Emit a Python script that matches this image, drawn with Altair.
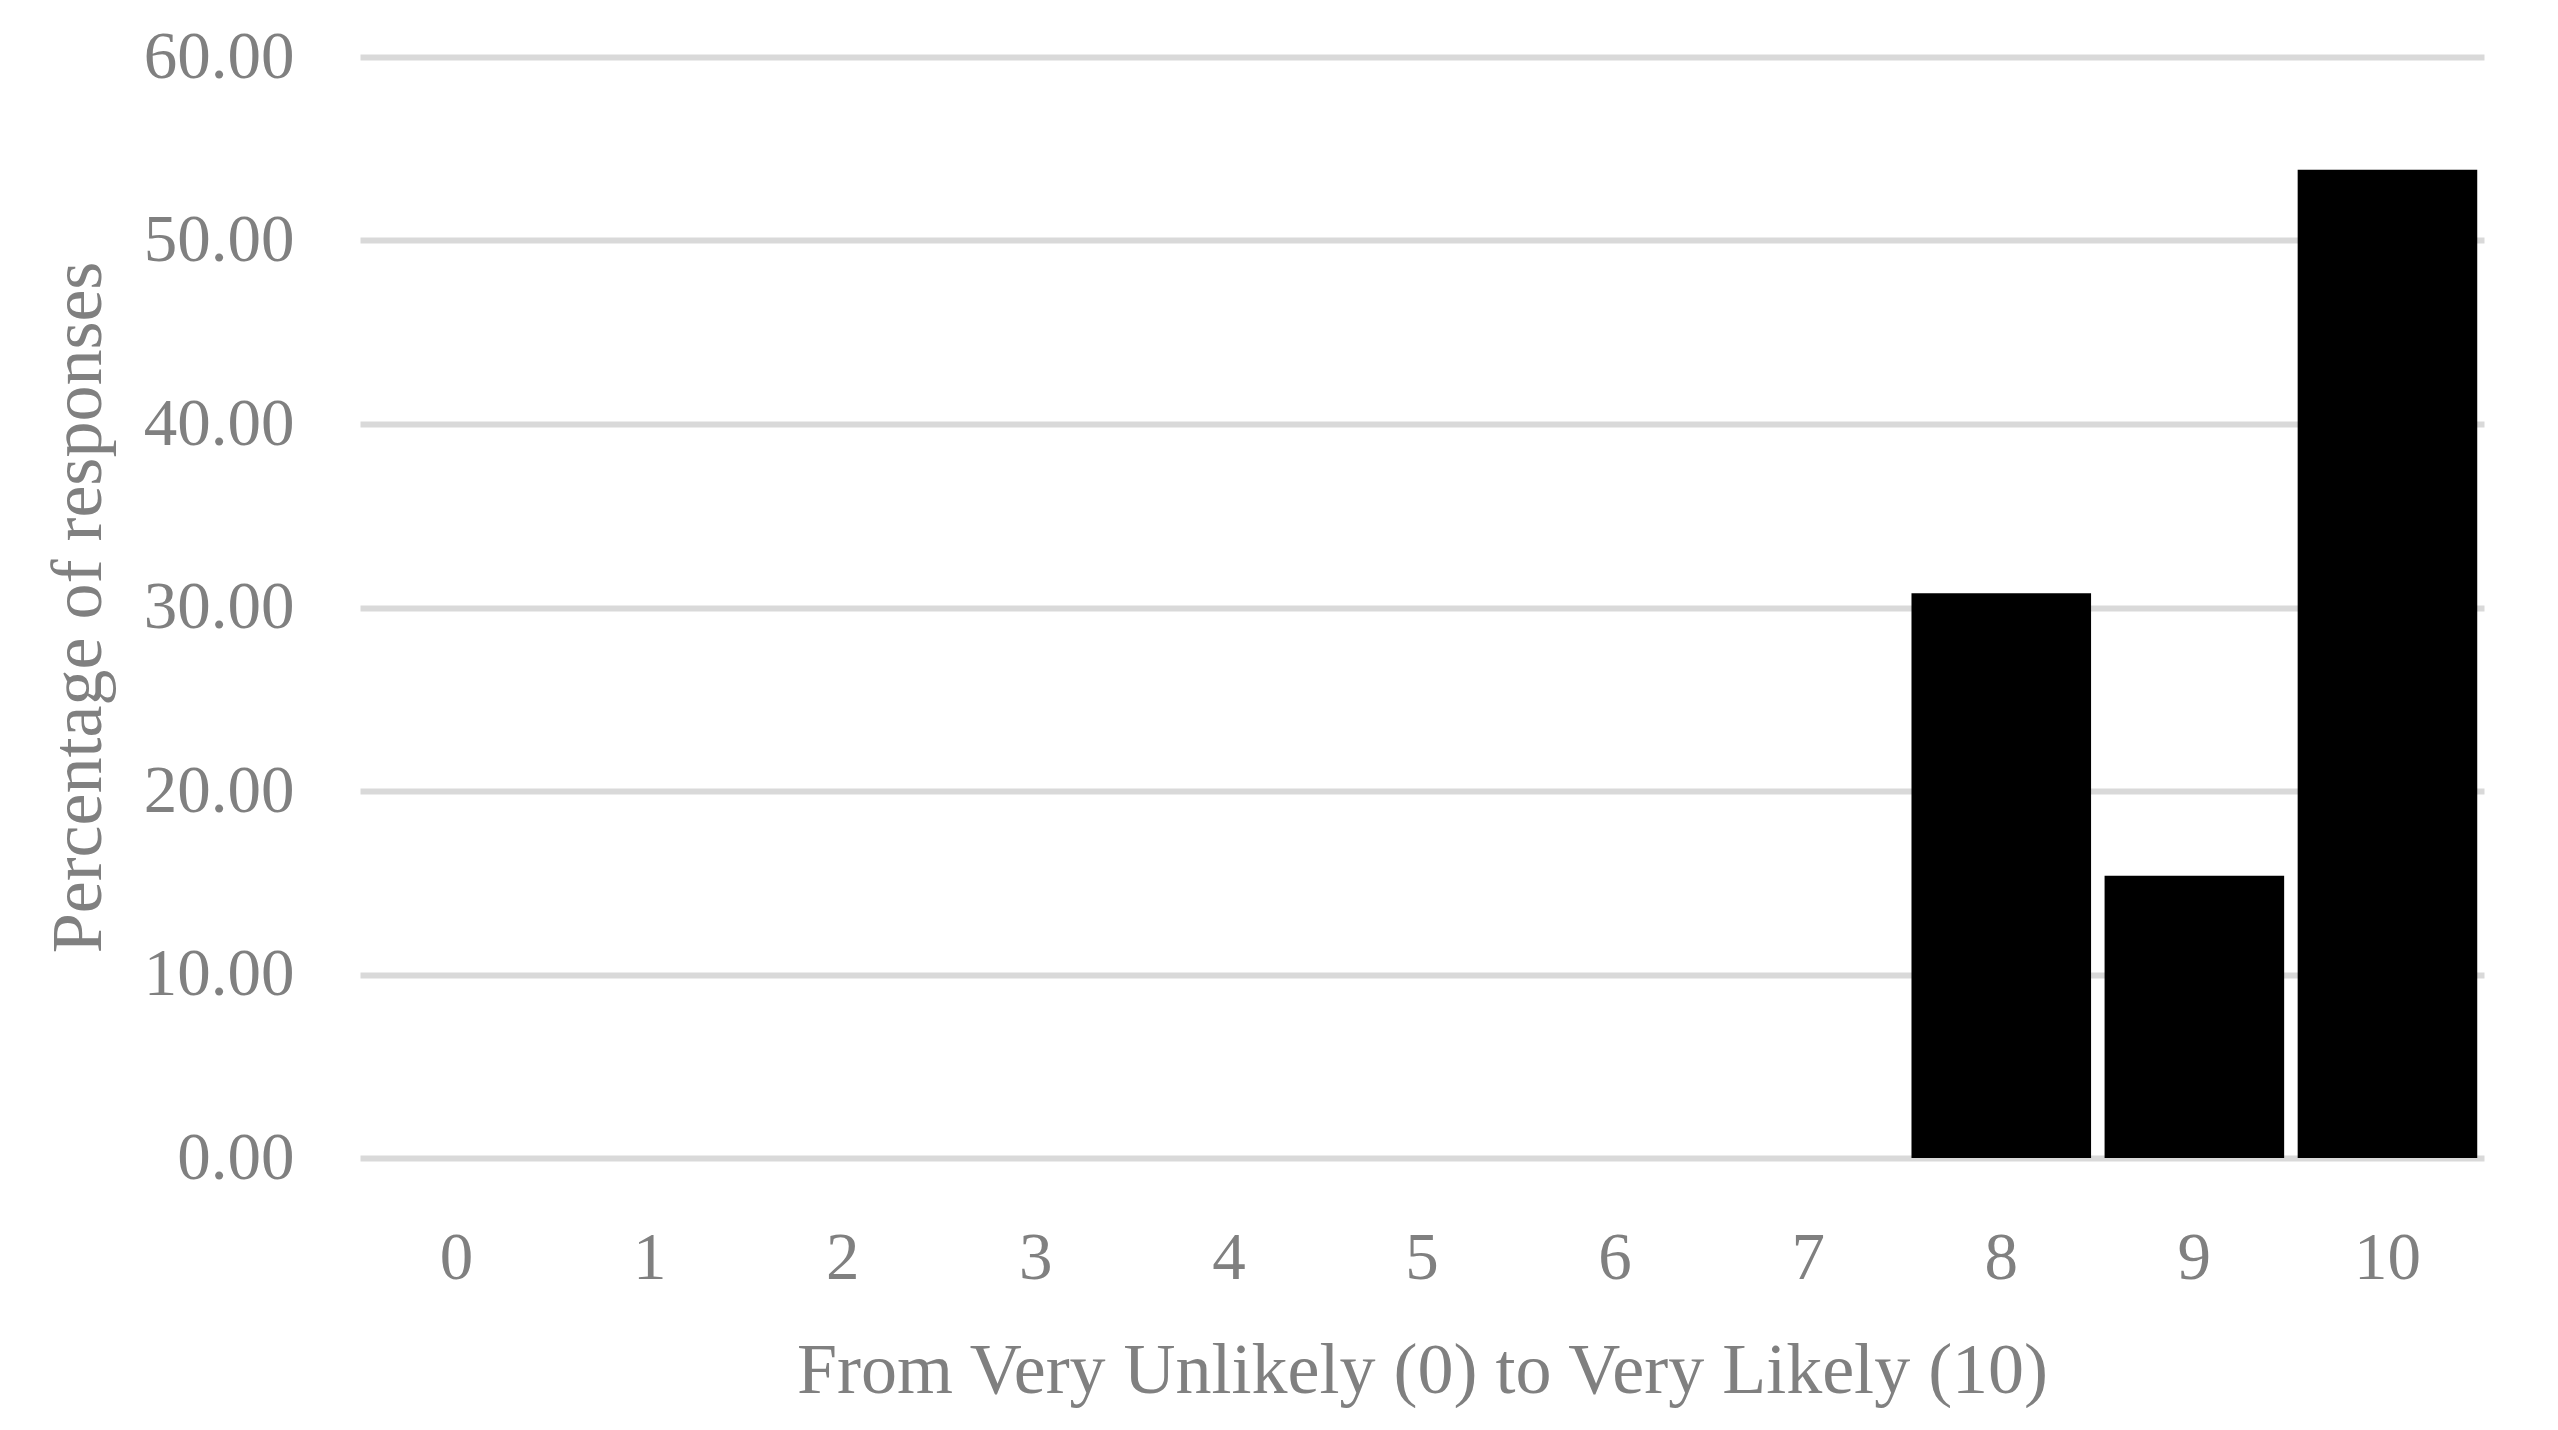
import altair as alt
import pandas as pd

categories = ["0", "1", "2", "3", "4", "5", "6", "7", "8", "9", "10"]
percentages = [0, 0, 0, 0, 0, 0, 0, 0, 30.77, 15.38, 53.85]
y_ticks = [0, 10, 20, 30, 40, 50, 60]

df = pd.DataFrame({"score": categories, "pct": percentages})

FONT = "Liberation Serif"
GRAY = "#808080"

chart = alt.Chart(df).mark_bar(color="#000000").encode(
    x=alt.X(
        "score:N",
        sort=categories,
        scale=alt.Scale(paddingInner=0.07, paddingOuter=0.035),
        axis=alt.Axis(
            title="From Very Unlikely (0) to Very Likely (10)",
            labelAngle=0,
            labelFont=FONT,
            labelFontSize=67,
            labelColor=GRAY,
            labelPadding=67,
            ticks=False,
            domain=False,
            grid=False,
            titleFont=FONT,
            titleFontSize=72,
            titleFontWeight="normal",
            titleColor=GRAY,
            titleY=212,
            titleBaseline="middle",
        ),
    ),
    y=alt.Y(
        "pct:Q",
        scale=alt.Scale(domain=[0, 60], nice=False),
        axis=alt.Axis(
            title="Percentage of responses",
            values=y_ticks,
            format=".2f",
            labelFont=FONT,
            labelFontSize=67,
            labelColor=GRAY,
            labelPadding=66,
            ticks=False,
            domain=False,
            grid=True,
            gridColor="#d9d9d9",
            gridWidth=6,
            titleFont=FONT,
            titleFontSize=72,
            titleFontWeight="normal",
            titleColor=GRAY,
            titleX=-282,
            titleY=550,
            titleAngle=270,
            titleAlign="center",
            titleBaseline="middle",
        ),
    ),
).properties(
    width=2124,
    height=1101,
    autosize=alt.AutoSizeParams(type="none"),
    padding={"left": 352, "top": 49, "right": 60, "bottom": 250},
).configure_view(stroke=None)

chart.save("out.html", embed_options={"renderer": "svg", "actions": False})
